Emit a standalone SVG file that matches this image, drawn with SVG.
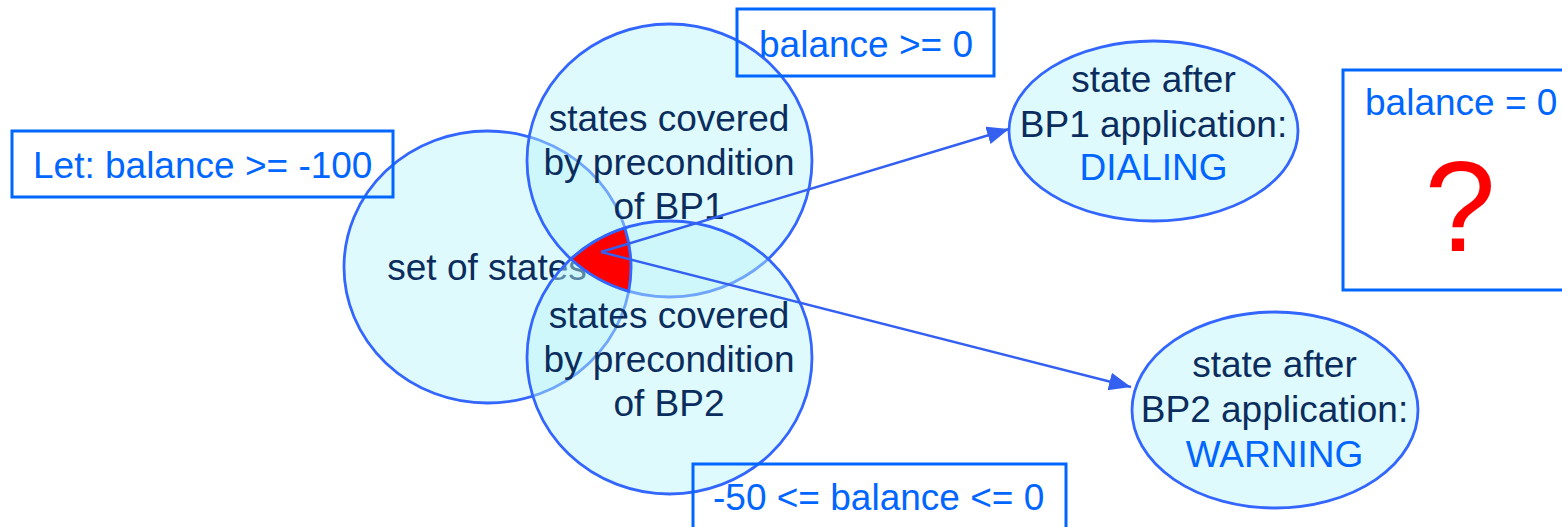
<svg xmlns="http://www.w3.org/2000/svg" width="1562" height="527" viewBox="0 0 1562 527">
<style>
.node{fill:#b8f4f8;fill-opacity:0.45;stroke:#3366ff;stroke-width:2.8}
.t{font-family:"Liberation Sans",Arial,sans-serif;font-size:37px;fill:#0b2d5e;text-anchor:middle}
.b{font-family:"Liberation Sans",Arial,sans-serif;font-size:37px;fill:#0066ff}
.box{fill:none;stroke:#0066ff;stroke-width:3}
.conn{stroke:#3360f0;stroke-width:2.4;fill:none}
</style>
<defs>
<marker id="ah" markerUnits="userSpaceOnUse" markerWidth="26" markerHeight="20" refX="22" refY="9" orient="auto">
<path d="M0,0 L22,9 L0,18 Z" fill="#3360f0"/>
</marker>
<clipPath id="c1"><ellipse cx="669.5" cy="160.5" rx="142.5" ry="136.5"/></clipPath>
<clipPath id="c2" clip-path="url(#c1)"><ellipse cx="669.5" cy="357.5" rx="142.5" ry="136.5"/></clipPath>
</defs>
<g id="set-of-states">
<ellipse class="node" cx="487.5" cy="267" rx="143.5" ry="136"/>
<text class="t" x="487" y="280">set of states</text>
</g>
<g id="bp1">
<ellipse class="node" cx="669.5" cy="160.5" rx="142.5" ry="136.5"/>
<text class="t" x="669" y="131">states covered</text>
<text class="t" x="669" y="175">by precondition</text>
<text class="t" x="669" y="219">of BP1</text>
</g>
<g id="bp2">
<ellipse class="node" cx="669.5" cy="357.5" rx="142.5" ry="136.5"/>
<text class="t" x="669" y="328">states covered</text>
<text class="t" x="669" y="372">by precondition</text>
<text class="t" x="669" y="416">of BP2</text>
</g>
<g id="intersection">
<ellipse cx="487.5" cy="267" rx="143.5" ry="136" fill="#ff0000" clip-path="url(#c2)"/>
<path d="M571,259 A142.5 136.5 0 0 1 624.8,228 A143.5 136 0 0 1 628.7,291.3 A142.5 136.5 0 0 1 571,259 Z" fill="none" stroke="#3366ff" stroke-width="2.8"/>
</g>
<g id="dialing">
<ellipse class="node" cx="1153.5" cy="131" rx="144.5" ry="90"/>
<text class="t" x="1153.5" y="92">state after</text>
<text class="t" x="1153.5" y="137">BP1 application:</text>
<text class="t" x="1153.5" y="180" style="fill:#0066ff">DIALING</text>
</g>
<g id="warning">
<ellipse class="node" cx="1275" cy="410" rx="143" ry="98"/>
<text class="t" x="1274.5" y="377">state after</text>
<text class="t" x="1274.5" y="422">BP2 application:</text>
<text class="t" x="1274.5" y="467" style="fill:#0066ff">WARNING</text>
</g>
<g id="connectors">
<line class="conn" x1="601" y1="252" x2="1009" y2="129" marker-end="url(#ah)"/>
<line class="conn" x1="601" y1="252" x2="1131" y2="387" marker-end="url(#ah)"/>
</g>
<g id="let-box">
<rect class="box" x="12" y="131" width="381" height="66"/>
<text class="b" x="33" y="178">Let: balance &gt;= -100</text>
</g>
<g id="bp1-box">
<rect class="box" x="737" y="9" width="257" height="67"/>
<text class="b" x="759" y="57">balance &gt;= 0</text>
</g>
<g id="bp2-box">
<rect class="box" x="693" y="464" width="373" height="75"/>
<text class="b" x="713" y="510">-50 &lt;= balance &lt;= 0</text>
</g>
<g id="zero-box">
<rect class="box" x="1343" y="70" width="225" height="220"/>
<text class="b" x="1365" y="115">balance = 0</text>
<text x="1460" y="251" font-family="'Liberation Sans',Arial,sans-serif" font-size="128" fill="#ff0000" text-anchor="middle">?</text>
</g>
</svg>
